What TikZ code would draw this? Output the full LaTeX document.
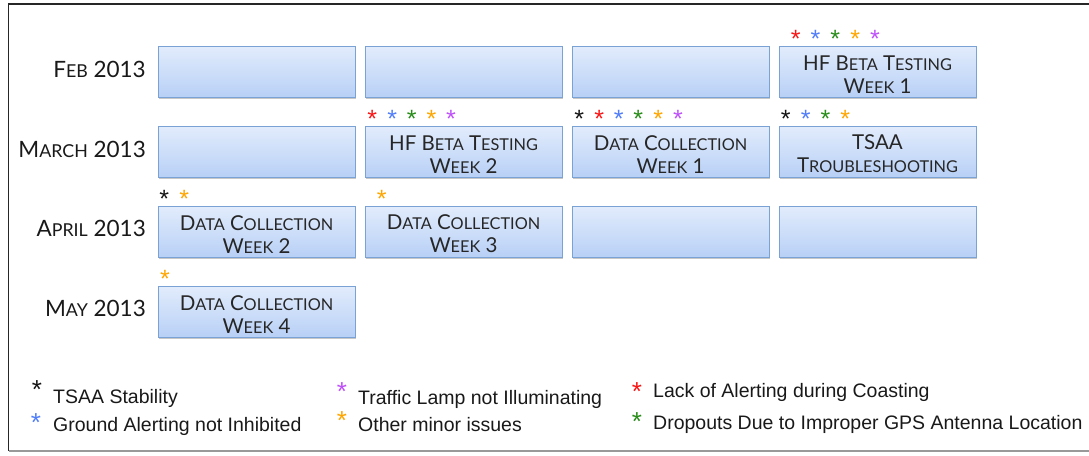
\documentclass[tikz,border=0pt]{standalone}
\usepackage{fontspec}
\setmainfont{Lato}
\newfontfamily\legendfont{Liberation Sans}
\usetikzlibrary{shadows}

\definecolor{boxtop}{RGB}{226,236,252}
\definecolor{boxbot}{RGB}{184,208,246}
\definecolor{boxline}{RGB}{122,162,212}
\definecolor{mkred}{RGB}{250,20,20}
\definecolor{mkblue}{RGB}{80,125,250}
\definecolor{mkgreen}{RGB}{40,140,25}
\definecolor{mkorange}{RGB}{255,165,0}
\definecolor{mkpurple}{RGB}{190,80,250}
\definecolor{mkblack}{RGB}{20,20,20}

% lowered capitals for the small-caps look
\newcommand\lcsize{15pt}
\newcommand\lc[1]{{\fontsize{\lcsize}{\lcsize}\selectfont #1}}
% keeps the two text lines a little below the box centre
\newcommand\topstrut{\rule{0pt}{20pt}}

\begin{document}
\begin{tikzpicture}[x=1pt, y=-1pt,
  weekbox/.style={draw=boxline, line width=0.8pt, top color=boxtop, bottom color=boxbot,
    minimum width=197pt, minimum height=51pt, inner sep=0pt, align=center,
    font=\fontsize{20.5pt}{23pt}\selectfont\def\lcsize{16.3pt}, text=black!85,
    drop shadow={shadow xshift=1pt, shadow yshift=-2pt, opacity=0.22, fill=black}},
  month/.style={anchor=base east, inner sep=0pt,
    font=\fontsize{22.5pt}{26pt}\selectfont\def\lcsize{17.8pt}, text=black!90},
  issuemark/.style={anchor=north, inner sep=0pt, font=\legendfont\fontsize{25pt}{25pt}\selectfont},
  keymark/.style={anchor=north, inner sep=0pt, font=\legendfont\fontsize{26pt}{26pt}\selectfont},
  legendtext/.style={anchor=base west, inner sep=0pt, font=\legendfont\fontsize{19.5pt}{23pt}\selectfont, text=black!90}]

\useasboundingbox (0,0) rectangle (1089,455);

% frame
\draw[line width=1.6pt, black!85] (1095,4) -- (8.5,4) -- (8.5,451);
\draw[line width=1.2pt, black!40] (8.5,451) -- (1095,451);

% month labels
\node[month] (mfeb) at (146,77) {F\lc{EB} 2013};
\node[month] (mmar) at (146,157) {M\lc{ARCH} 2013};
\node[month] (mapr) at (146,236) {A\lc{PRIL} 2013};
\node[month] (mmay) at (146,316) {M\lc{AY} 2013};

% week boxes
\node[weekbox] (b11) at (256.5,71.5) {};
\node[weekbox] (b12) at (463.5,71.5) {};
\node[weekbox] (b13) at (670.5,71.5) {};
\node[weekbox] (b14) at (877.5,71.5) {\topstrut HF B\lc{ETA} T\lc{ESTING}\\W\lc{EEK} 1};

\node[weekbox] (b21) at (256.5,151.5) {};
\node[weekbox] (b22) at (463.5,151.5) {\topstrut HF B\lc{ETA} T\lc{ESTING}\\W\lc{EEK} 2};
\node[weekbox] (b23) at (670.5,151.5) {\topstrut D\lc{ATA} C\lc{OLLECTION}\\W\lc{EEK} 1};
\node[weekbox] (b24) at (877.5,151.5) {\topstrut TSAA\\T\lc{ROUBLESHOOTING}};

\node[weekbox] (b31) at (256.5,231.5) {\topstrut D\lc{ATA} C\lc{OLLECTION}\\W\lc{EEK} 2};
\node[weekbox] (b32) at (463.5,231.5) {\topstrut D\lc{ATA} C\lc{OLLECTION}\\W\lc{EEK} 3};
\node[weekbox] (b33) at (670.5,231.5) {};
\node[weekbox] (b34) at (877.5,231.5) {};

\node[weekbox] (b41) at (256.5,311.5) {\topstrut D\lc{ATA} C\lc{OLLECTION}\\W\lc{EEK} 4};

% issue marks above the weeks
\foreach \x/\y/\c [count=\k] in {
  795.8/36/mkred, 815.4/36/mkblue, 835.3/36/mkgreen, 855.3/36/mkorange, 874.9/36/mkpurple,
  372.3/116/mkred, 392.3/116/mkblue, 411.7/116/mkgreen, 431.5/116/mkorange, 451/116/mkpurple,
  579.2/116/mkblack, 599.2/116/mkred, 618.8/116/mkblue, 638.3/116/mkgreen, 658.3/116/mkorange, 677.9/116/mkpurple,
  785.8/116/mkblack, 805.8/116/mkblue, 825.4/116/mkgreen, 845.3/116/mkorange,
  164.3/196/mkblack, 184.3/196/mkorange, 381.7/196/mkorange,
  165/276/mkorange}
  \node[issuemark, text=\c] (mark\k) at (\x,\y-5.5) {*};

% legend
\node[keymark, text=mkblack]  (kblack)  at (37,380)  {*};
\node[keymark, text=mkblue]   (kblue)   at (36,413)  {*};
\node[keymark, text=mkpurple] (kpurple) at (342,382) {*};
\node[keymark, text=mkorange] (korange) at (342,411) {*};
\node[keymark, text=mkred]    (kred)    at (637,382) {*};
\node[keymark, text=mkgreen]  (kgreen)  at (637,412) {*};

\node[legendtext] (tblack)  at (53,403)  {TSAA Stability};
\node[legendtext] (tblue)   at (53,431)  {Ground Alerting not Inhibited};
\node[legendtext] (tpurple) at (358,404) {Traffic Lamp not Illuminating};
\node[legendtext] (torange) at (358,431) {Other minor issues};
\node[legendtext] (tred)    at (653,397) {Lack of Alerting during Coasting};
\node[legendtext] (tgreen)  at (653,429) {Dropouts Due to Improper GPS Antenna Location};
\end{tikzpicture}
\end{document}
